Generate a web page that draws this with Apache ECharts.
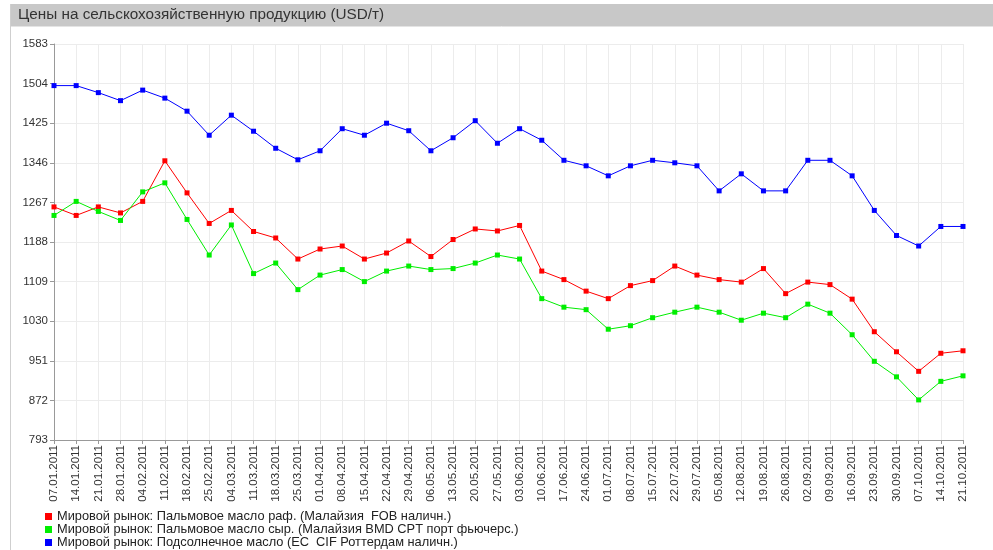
<!DOCTYPE html>
<html>
<head>
<meta charset="utf-8">
<script src="https://cdn.jsdelivr.net/npm/echarts@6/dist/echarts.min.js"></script>
<style>
html, body { margin: 0; padding: 0; background: #fff; }
#chart { width: 993px; height: 550px; }
</style>
</head>
<body>
<div id="chart"></div>
<script>
// даты (еженедельно)
const dates = [
  '07.01.2011', '14.01.2011', '21.01.2011', '28.01.2011', '04.02.2011', '11.02.2011',
  '18.02.2011', '25.02.2011', '04.03.2011', '11.03.2011', '18.03.2011', '25.03.2011',
  '01.04.2011', '08.04.2011', '15.04.2011', '22.04.2011', '29.04.2011', '06.05.2011',
  '13.05.2011', '20.05.2011', '27.05.2011', '03.06.2011', '10.06.2011', '17.06.2011',
  '24.06.2011', '01.07.2011', '08.07.2011', '15.07.2011', '22.07.2011', '29.07.2011',
  '05.08.2011', '12.08.2011', '19.08.2011', '26.08.2011', '02.09.2011', '09.09.2011',
  '16.09.2011', '23.09.2011', '30.09.2011', '07.10.2011', '14.10.2011', '21.10.2011'
]

const palmRefined = [
  1258, 1241, 1258, 1246, 1269, 1350, 1286, 1225, 1251, 1209, 1196, 1154,
  1174, 1180, 1154, 1166, 1190, 1159, 1193, 1214, 1210, 1221, 1130, 1113,
  1090, 1075, 1101, 1111, 1140, 1122, 1113, 1108, 1135, 1085, 1108, 1103,
  1074, 1009, 969, 930, 966, 971
]
const palmCrude = [
  1241, 1269, 1249, 1231, 1288, 1306, 1233, 1162, 1222, 1125, 1146, 1093,
  1122, 1133, 1109, 1130, 1140, 1133, 1135, 1146, 1162, 1154, 1075, 1058,
  1053, 1014, 1021, 1037, 1048, 1058, 1048, 1032, 1046, 1037, 1064, 1046,
  1003, 950, 919, 873, 910, 921
]
const sunflower = [
  1500, 1500, 1486, 1470, 1491, 1475, 1449, 1401, 1441, 1409, 1375, 1352,
  1370, 1414, 1401, 1425, 1410, 1370, 1396, 1430, 1385, 1414, 1391, 1351,
  1340, 1320, 1340, 1351, 1346, 1340, 1290, 1324, 1290, 1290, 1351, 1351,
  1320, 1251, 1201, 1180, 1219, 1219
]

const seriesNames = [
  'Мировой рынок: Пальмовое масло раф. (Малайзия  FOB наличн.)',
  'Мировой рынок: Пальмовое масло сыр. (Малайзия BMD CPT порт фьючерс.)',
  'Мировой рынок: Подсолнечное масло (EC  CIF Роттердам наличн.)'
]
const colors = ['#ff0000', '#00ee00', '#0000ff']

// шкала Y: 793 ... 1583 шаг 79 (от базы, чтобы деления шли от 793)
const yBase = 793
const yStep = 79
const yMax = 1583

const font = 'Liberation Sans, Arial, sans-serif'
const chart = echarts.init(document.getElementById('chart'))

const makeSeries = (name, data, color) => ({
  name: name,
  type: 'line',
  data: data.map(v => v - yBase),
  symbol: 'rect',
  symbolSize: 5,
  showSymbol: true,
  itemStyle: { color: color },
  lineStyle: { color: color, width: 1 },
  animation: false
})

chart.setOption({
  backgroundColor: '#fff',
  animation: false,
  graphic: [
    { type: 'rect', left: 10, top: 4, shape: { width: 983, height: 22 }, style: { fill: '#c8c8c8' }, silent: true },
    { type: 'line', shape: { x1: 10, y1: 26.5, x2: 993, y2: 26.5 }, style: { stroke: '#e4e4e4', lineWidth: 1 }, silent: true },
    { type: 'line', shape: { x1: 10.5, y1: 4, x2: 10.5, y2: 550 }, style: { stroke: '#cfcfcf', lineWidth: 1 }, silent: true },
    {
      type: 'text', left: 18, top: 7,
      style: { text: 'Цены на сельскохозяйственную продукцию (USD/т)', fill: '#333', font: '15.3px ' + font }
    }
  ],
  legend: {
    orient: 'vertical',
    left: 45,
    top: 510,
    height: 40,
    icon: 'rect',
    itemWidth: 7,
    itemHeight: 7,
    itemGap: 0,
    padding: 0,
    textStyle: { fontSize: 12.8, lineHeight: 13, color: '#222', fontFamily: font },
    data: seriesNames
  },
  grid: { left: 54, right: 30, top: 44, bottom: 110 },
  xAxis: {
    type: 'category',
    data: dates,
    boundaryGap: false,
    axisLine: { lineStyle: { color: '#999' } },
    axisTick: { show: true, length: 4, lineStyle: { color: '#999' } },
    splitLine: { show: true, lineStyle: { color: '#ececec' } },
    axisLabel: { rotate: 90, interval: 0, fontSize: 11.5, color: '#333', fontFamily: font, margin: 5 }
  },
  yAxis: {
    type: 'value',
    min: 0,
    max: yMax - yBase,
    interval: yStep,
    axisLine: { show: true, lineStyle: { color: '#999' } },
    axisTick: { show: true, length: 4, lineStyle: { color: '#999' } },
    splitLine: { show: true, lineStyle: { color: '#ececec' } },
    axisLabel: {
      fontSize: 11.5, color: '#333', fontFamily: font, margin: 6,
      formatter: v => String(v + yBase)
    }
  },
  series: [
    makeSeries(seriesNames[0], palmRefined, colors[0]),
    makeSeries(seriesNames[1], palmCrude, colors[1]),
    makeSeries(seriesNames[2], sunflower, colors[2])
  ]
})

window.addEventListener('resize', function () {
  chart.resize()
})
</script>
</body>
</html>
